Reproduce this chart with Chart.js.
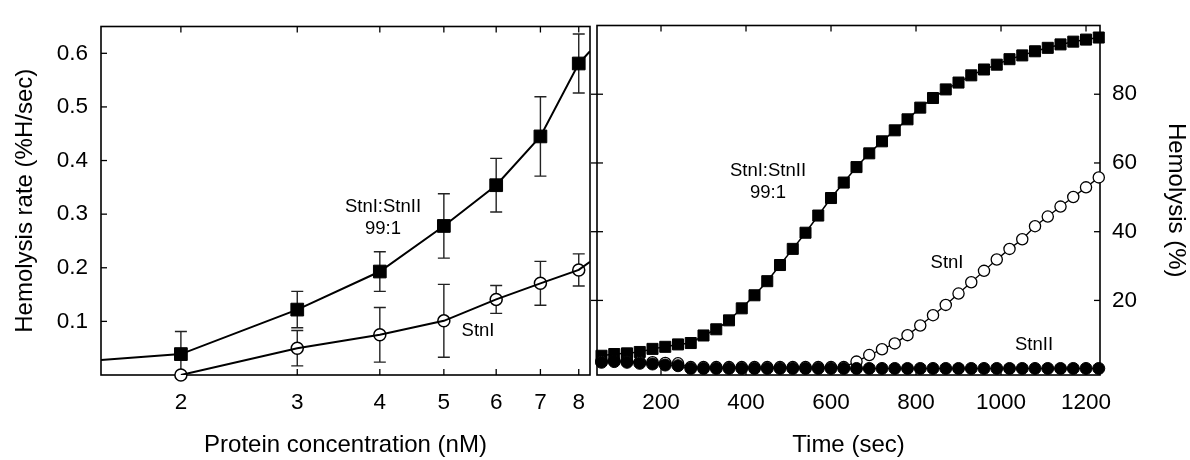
<!DOCTYPE html>
<html>
<head>
<meta charset="utf-8">
<script src="https://cdn.jsdelivr.net/npm/chart.js@4.4.1/dist/chart.umd.min.js"></script>
<style>
  html, body { margin: 0; padding: 0; background: #fff; }
  #wrap { position: relative; width: 1190px; height: 460px; overflow: hidden; background: #fff; }
  canvas { position: absolute; top: 0; }
  #left { left: 0; }
  #right { left: 560px; }
</style>
</head>
<body>
<div id="wrap">
  <canvas id="left" width="600" height="460"></canvas>
  <canvas id="right" width="630" height="460"></canvas>
</div>
<script>
// ---------- Left panel data ----------
const concentration = [2, 3, 4, 5, 6, 7, 8];
const comboRate = [0.039, 0.122, 0.193, 0.278, 0.354, 0.445, 0.581];
const comboErr  = [0.042, 0.034, 0.037, 0.060, 0.050, 0.074, 0.055];
const stnIRate  = [0.0, 0.050, 0.075, 0.101, 0.141, 0.171, 0.196];
const stnIErr   = [0, 0.033, 0.051, 0.068, 0.026, 0.041, 0.030];
// fitted curves drawn through the points up to the frame edges
const curveX      = [1.514, 2, 3, 4, 5, 6, 7, 8, 8.32];
const comboCurve  = [0.028, 0.039, 0.122, 0.193, 0.278, 0.354, 0.445, 0.581, 0.604];
const stnICurveX  = [2, 3, 4, 5, 6, 7, 8, 8.32];
const stnICurve   = [0.0, 0.050, 0.075, 0.101, 0.141, 0.171, 0.196, 0.211];
const leftXTicks = [2, 3, 4, 5, 6, 7, 8];
const leftYTicks = [0.1, 0.2, 0.3, 0.4, 0.5, 0.6];

// ---------- Right panel data ----------
const times = [60, 90, 120, 150, 180, 210, 240, 270, 300, 330, 360, 390, 420, 450, 480, 510, 540, 570, 600, 630,
               660, 690, 720, 750, 780, 810, 840, 870, 900, 930, 960, 990, 1020, 1050, 1080, 1110, 1140, 1170, 1200, 1230];
const comboHemo = [3.9, 4.4, 4.6, 5.0, 5.9, 6.5, 7.2, 7.6, 9.8, 11.6, 14.2, 17.7, 21.5, 25.6, 30.3, 35.0, 39.7, 44.7, 49.8, 54.3,
                   58.8, 62.8, 66.3, 69.5, 72.7, 76.1, 78.9, 81.4, 83.4, 85.5, 87.2, 88.6, 90.2, 91.3, 92.5, 93.5, 94.5, 95.3, 95.9, 96.5];
const stnIHemo = [2.3, 2.4, 2.3, 2.1, 2.0, 1.8, 1.7, 0.6, 0.6, 0.6, 0.6, 0.6, 0.6, 0.6, 0.6, 0.6, 0.6, 0.6, 0.6, 0.6,
                  2.2, 4.1, 5.8, 7.5, 9.9, 12.7, 15.7, 18.7, 22.0, 25.3, 28.6, 31.9, 35.0, 37.8, 41.6, 44.4, 47.3, 50.1, 52.9, 55.8];
const stnIIHemo = [2.0, 2.2, 2.0, 1.7, 1.5, 1.2, 1.0, 0.2, 0.2, 0.2, 0.2, 0.2, 0.2, 0.2, 0.2, 0.2, 0.2, 0.2, 0.2, 0.2,
                   0.2, 0.2, 0.2, 0.2, 0.2, 0.2, 0.2, 0.2, 0.2, 0.2, 0.2, 0.2, 0.2, 0.2, 0.2, 0.2, 0.2, 0.2, 0.2, 0.2];
const rightXTicks = [200, 400, 600, 800, 1000, 1200];
const rightYTicks = [20, 40, 60, 80];

const FONT = "'Liberation Sans', Arial, sans-serif";
Chart.defaults.font.family = FONT;
Chart.defaults.color = '#000';

const pts = (xs, ys) => xs.map((x, i) => ({x: x, y: ys[i]}));

// frame + inner ticks
const framePlugin = {
  id: 'frame',
  beforeDatasetsDraw(chart, args, o) {
    const {ctx, chartArea: a, scales} = chart;
    const L = o.tickLen || 6;
    ctx.save();
    ctx.strokeStyle = '#000';
    ctx.lineWidth = o.lineWidth || 1.6;
    ctx.strokeRect(a.left, a.top, a.right - a.left, a.bottom - a.top);
    ctx.lineWidth = 1.3;
    const seg = (x1, y1, x2, y2) => { ctx.beginPath(); ctx.moveTo(x1, y1); ctx.lineTo(x2, y2); ctx.stroke(); };
    scales.x.ticks.forEach(t => {
      const px = scales.x.getPixelForValue(t.value);
      seg(px, a.bottom, px, a.bottom - L);
      seg(px, a.top, px, a.top + L);
    });
    scales.y.ticks.forEach(t => {
      const py = scales.y.getPixelForValue(t.value);
      if (o.ySide === 'left') seg(a.left, py, a.left + L, py);
      if (o.ySide === 'right') {
        seg(a.right, py, a.right - L, py);
        seg(a.left - L, py, a.left + L, py);
      }
    });
    ctx.restore();
  }
};

// error bars
const errorPlugin = {
  id: 'errbars',
  beforeDatasetsDraw(chart) {
    const {ctx, scales} = chart;
    ctx.save();
    ctx.strokeStyle = '#222';
    ctx.lineWidth = 1.4;
    chart.data.datasets.forEach(ds => {
      if (!ds.errorBars) return;
      ds.data.forEach((p, i) => {
        const e = ds.errorBars[i];
        if (!e) return;
        const px = scales.x.getPixelForValue(p.x);
        const yt = scales.y.getPixelForValue(p.y + e);
        const yb = scales.y.getPixelForValue(p.y - e);
        const w = 6;
        ctx.beginPath();
        ctx.moveTo(px, yt); ctx.lineTo(px, yb);
        ctx.moveTo(px - w, yt); ctx.lineTo(px + w, yt);
        ctx.moveTo(px - w, yb); ctx.lineTo(px + w, yb);
        ctx.stroke();
      });
    });
    ctx.restore();
  }
};

// in-plot text labels
const labelPlugin = {
  id: 'labels',
  afterDatasetsDraw(chart, args, o) {
    const ctx = chart.ctx;
    ctx.save();
    ctx.fillStyle = '#000';
    ctx.font = `18.5px ${FONT}`;
    ctx.textAlign = 'center';
    ctx.textBaseline = 'middle';
    (o.items || []).forEach(it => ctx.fillText(it.text, it.x, it.y));
    ctx.restore();
  }
};

const tickFont = {size: 22.5};
const titleFont = {size: 24};

// ---------- Left chart ----------
new Chart(document.getElementById('left'), {
  type: 'line',
  data: {
    datasets: [
      {data: pts(curveX, comboCurve), borderColor: '#000', borderWidth: 2, pointRadius: 0, tension: 0, fill: false},
      {data: pts(stnICurveX, stnICurve), borderColor: '#000', borderWidth: 2, pointRadius: 0, tension: 0, fill: false},
      {data: pts(concentration, comboRate), errorBars: comboErr, showLine: false, pointStyle: 'rect',
       pointRadius: 9, pointBackgroundColor: '#000', pointBorderColor: '#000', pointBorderWidth: 1, clip: false},
      {data: pts(concentration, stnIRate), errorBars: stnIErr, showLine: false, pointStyle: 'circle',
       pointRadius: 6, pointBackgroundColor: '#fff', pointBorderColor: '#000', pointBorderWidth: 1.5, clip: false}
    ]
  },
  options: {
    responsive: false, animation: false, devicePixelRatio: 1,
    layout: {padding: {top: 15, right: 3, left: 0, bottom: 0}},
    plugins: {
      legend: {display: false}, tooltip: {enabled: false},
      frame: {ySide: 'left', tickLen: 6},
      labels: {items: [
        {text: 'StnI:StnII', x: 383, y: 207},
        {text: '99:1', x: 383, y: 229},
        {text: 'StnI', x: 478, y: 331}
      ]}
    },
    scales: {
      x: {
        type: 'logarithmic', min: 1.514, max: 8.32,
        grid: {display: false, drawTicks: false}, border: {display: false},
        afterBuildTicks: s => { s.ticks = leftXTicks.map(v => ({value: v})); },
        afterFit: s => { s.height = 85; },
        ticks: {font: tickFont, padding: 14, maxRotation: 0, autoSkip: false, callback: v => String(v)},
        title: {display: true, text: 'Protein concentration (nM)', font: titleFont, padding: {top: 9, bottom: 0}}
      },
      y: {
        type: 'linear', min: 0, max: 0.65,
        grid: {display: false, drawTicks: false}, border: {display: false},
        afterBuildTicks: s => { s.ticks = leftYTicks.map(v => ({value: v})); },
        afterFit: s => { s.width = 101; },
        ticks: {font: tickFont, padding: 13, callback: v => v.toFixed(1)},
        title: {display: true, text: 'Hemolysis rate (%H/sec)', font: titleFont, padding: {top: 11, bottom: 0}}
      }
    }
  },
  plugins: [framePlugin, errorPlugin, labelPlugin]
});

// ---------- Right chart ----------
new Chart(document.getElementById('right'), {
  type: 'line',
  data: {
    datasets: [
      {data: pts(times, stnIIHemo), borderColor: '#000', borderWidth: 1.5, pointStyle: 'circle', pointRadius: 6,
       pointBackgroundColor: '#000', pointBorderColor: '#000', pointBorderWidth: 1, clip: false},
      {data: pts(times, stnIHemo), borderColor: '#000', borderWidth: 1.3, pointStyle: 'circle', pointRadius: 5.6,
       pointBackgroundColor: '#fff', pointBorderColor: '#000', pointBorderWidth: 1.3, clip: false},
      {data: pts(times, comboHemo), borderColor: '#000', borderWidth: 1.5, pointStyle: 'rect', pointRadius: 7.8,
       pointBackgroundColor: '#000', pointBorderColor: '#000', pointBorderWidth: 1, clip: false}
    ]
  },
  options: {
    responsive: false, animation: false, devicePixelRatio: 1,
    layout: {padding: {top: 15, right: 0, left: 37, bottom: 0}},
    plugins: {
      legend: {display: false}, tooltip: {enabled: false},
      frame: {ySide: 'right', tickLen: 6},
      labels: {items: [
        {text: 'StnI:StnII', x: 768 - 560, y: 171},
        {text: '99:1', x: 768 - 560, y: 193},
        {text: 'StnI', x: 947 - 560, y: 263},
        {text: 'StnII', x: 1034 - 560, y: 345}
      ]}
    },
    scales: {
      x: {
        type: 'linear', min: 49.4, max: 1232.9,
        grid: {display: false, drawTicks: false}, border: {display: false},
        afterBuildTicks: s => { s.ticks = rightXTicks.map(v => ({value: v})); },
        afterFit: s => { s.height = 85; },
        ticks: {font: tickFont, padding: 14, maxRotation: 0, autoSkip: false, callback: v => String(v)},
        title: {display: true, text: 'Time (sec)', font: titleFont, padding: {top: 9, bottom: 0}}
      },
      y: {
        type: 'linear', position: 'right', min: -1.7, max: 100,
        grid: {display: false, drawTicks: false}, border: {display: false},
        afterBuildTicks: s => { s.ticks = rightYTicks.map(v => ({value: v})); },
        afterFit: s => { s.width = 90; },
        ticks: {font: tickFont, padding: 12, callback: v => String(v)},
        title: {display: true, text: 'Hemolysis (%)', font: titleFont, padding: {top: 0, bottom: 0}}
      }
    }
  },
  plugins: [framePlugin, labelPlugin]
});
</script>
</body>
</html>
